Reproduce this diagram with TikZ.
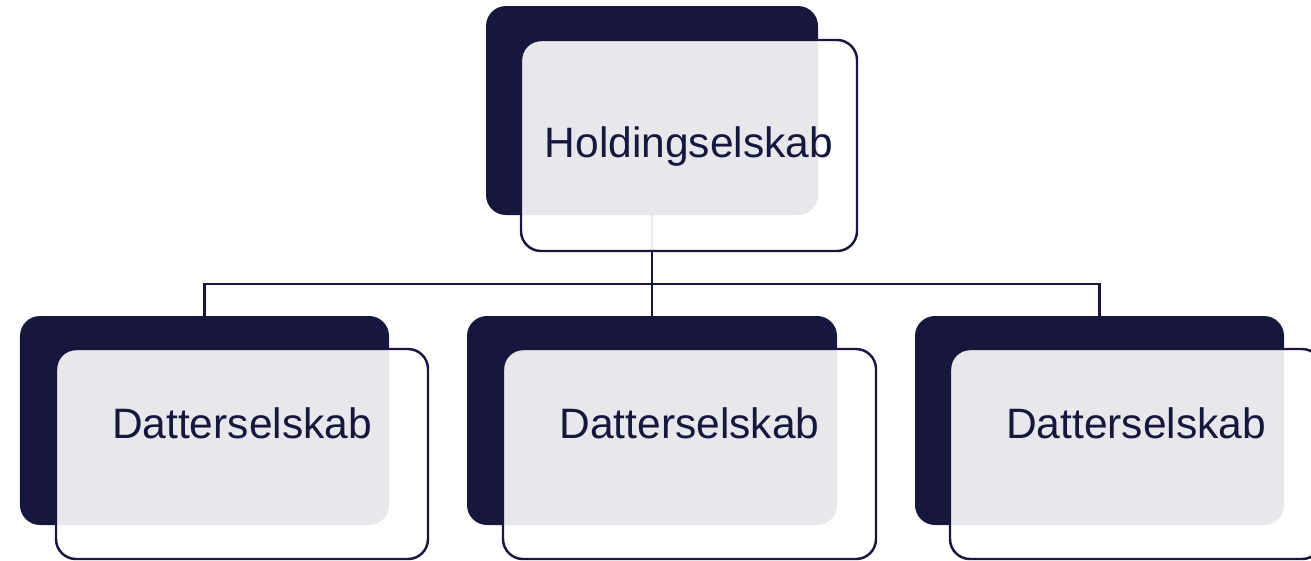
\documentclass[tikz,border=0pt]{standalone}
\usepackage{fontspec}
\setmainfont{Liberation Sans}
\usepackage{xcolor}
\usepackage{tikz}
\definecolor{navy}{RGB}{23,23,62}

\begin{document}
\begin{tikzpicture}
[x=0.2mm,y=-0.2mm,
back/.style={rectangle,fill=navy,rounded corners=4mm,inner sep=0pt,minimum height=41.8mm},
front/.style={rectangle,draw=navy,line width=1.4pt,fill=white,fill opacity=0.9,rounded corners=4mm,inner sep=0pt},
wire/.style={-,draw=navy,line width=1.4pt},
cardtext/.style={text=navy,anchor=base,inner sep=0pt,font=\fontsize{24.2}{28}\selectfont}]

\useasboundingbox (0,0) rectangle (1311,560);

% dark cards behind
\node at (652,110.5)    [back,minimum width=66.4mm] (holdback) {};
\node at (204.5,420.5)  [back,minimum width=73.8mm] (datback1) {};
\node at (652,420.5)    [back,minimum width=74mm]   (datback2) {};
\node at (1099.5,420.5) [back,minimum width=73.8mm] (datback3) {};

% tree lines
\coordinate (bus) at (652,284);
\draw [wire] (holdback.south) to (bus);
\draw [wire] (bus) -| (datback1.north);
\draw [wire] (bus) -- (datback2.north);
\draw [wire] (bus) -| (datback3.north);

% light cards in front
\node at (689,145.5) [front,minimum width=67.2mm,minimum height=42.2mm] (holding) {};
\node at (242,454)   [front,minimum width=74.4mm,minimum height=42mm]   (datter1) {};
\node at (689.5,454) [front,minimum width=74.6mm,minimum height=42mm]   (datter2) {};
\node at (1136,454)  [front,minimum width=74.4mm,minimum height=42mm]   (datter3) {};

\node at (holding |- 0,157) [cardtext] (holdingtxt) {Holdingselskab};
\node at (datter1 |- 0,438) [cardtext] (datter1txt) {Datterselskab};
\node at (datter2 |- 0,438) [cardtext] (datter2txt) {Datterselskab};
\node at (datter3 |- 0,438) [cardtext] (datter3txt) {Datterselskab};
\end{tikzpicture}
\end{document}
